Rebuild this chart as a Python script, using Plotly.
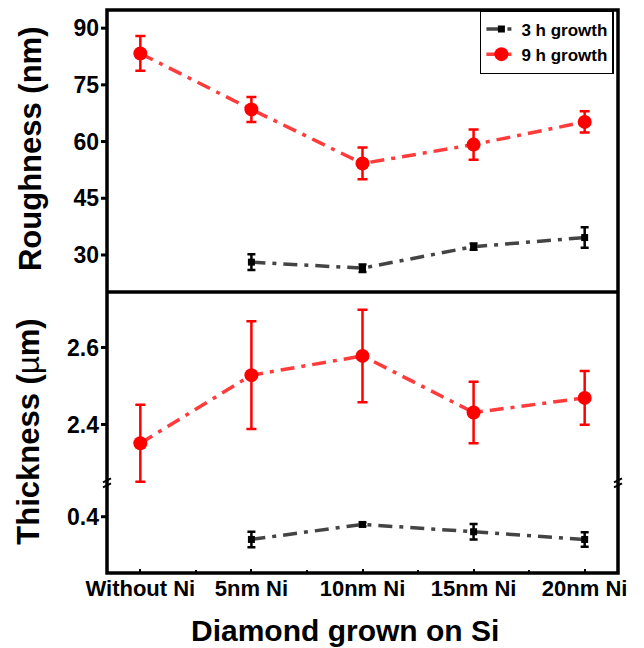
import plotly.graph_objects as go

# Samples and their tick labels
categories = ["Without Ni", "5nm Ni", "10nm Ni", "15nm Ni", "20nm Ni"]
xpos = [0, 1, 2, 3, 4]

# Surface roughness (nm)
rough_3h = [None, 28.1, 26.5, 32.2, 34.6]
rough_3h_err = [0, 2.1, 1.0, 0.8, 2.7]
rough_9h = [83.3, 68.5, 54.2, 59.2, 65.2]
rough_9h_err = [4.6, 3.3, 4.2, 4.0, 2.8]
rough_ticks = [30, 45, 60, 75, 90]

# Film thickness (µm)
thick_3h = [None, 0.341, 0.380, 0.361, 0.341]
thick_3h_err = [0, 0.020, 0.005, 0.020, 0.019]
thick_9h = [2.351, 2.528, 2.578, 2.431, 2.469]
thick_9h_err = [0.10, 0.14, 0.12, 0.08, 0.07]
thick_ticks_upper = [2.4, 2.6]
thick_ticks_lower = [0.4]

FONT = "Liberation Sans, Arial, sans-serif"
RED = "#ff0000"
RED_LINE = "#ff3b3b"
BLACK = "#000000"
GREY_LINE = "#444444"
DASH = "14px,7px,4px,7px"

fig = go.Figure()


def add_series(x, y, err, yaxis, kind, show):
    if kind == "3h":
        fig.add_trace(go.Scatter(
            x=x, y=y, yaxis=yaxis, name="3 h growth", mode="lines+markers",
            line=dict(color=GREY_LINE, width=3.5, dash=DASH),
            marker=dict(symbol="square", size=7, color=BLACK),
            error_y=dict(type="data", array=err, color=BLACK, thickness=2.5, width=4),
            showlegend=show, legendrank=1, connectgaps=False,
        ))
    else:
        fig.add_trace(go.Scatter(
            x=x, y=y, yaxis=yaxis, name="9 h growth", mode="lines+markers",
            line=dict(color=RED_LINE, width=3.5, dash=DASH),
            marker=dict(symbol="circle", size=14, color=RED),
            error_y=dict(type="data", array=err, color=RED, thickness=2.5, width=5),
            showlegend=show, legendrank=2,
        ))


add_series(xpos, rough_3h, rough_3h_err, "y", "3h", True)
add_series(xpos, rough_9h, rough_9h_err, "y", "9h", True)
add_series(xpos, thick_9h, thick_9h_err, "y2", "9h", False)
add_series(xpos, thick_3h, thick_3h_err, "y3", "3h", False)

tickfont = dict(family=FONT, size=23, color="black", weight="bold")
# tick marks are drawn as shapes below so the labels sit close to the axis
yax_common = dict(showline=False, showgrid=False, zeroline=False, ticks="",
                  tickfont=tickfont, ticklabelstandoff=7)

split_top = 0.4991   # divider between the two panels
split_break = 0.1599  # axis break in the thickness panel

fig.update_layout(
    width=644, height=648,
    margin=dict(l=107, r=26, t=10, b=75, autoexpand=False),
    plot_bgcolor="white", paper_bgcolor="white",
    xaxis=dict(
        anchor="y3", range=[-0.3, 4.3], tickvals=xpos, ticktext=categories,
        showline=False, showgrid=False, zeroline=False,
        ticks="inside", ticklen=4, tickwidth=2, tickcolor="black",
        tickfont=dict(family=FONT, size=22, color="black", weight="bold"),
        minor=dict(ticks="inside", dtick=0.5, tick0=0, ticklen=3, tickwidth=1.5,
                   tickcolor="black", showgrid=False),
    ),
    yaxis=dict(domain=[split_top, 1], range=[20.2, 94.8],
               tickvals=rough_ticks, anchor="x", **yax_common),
    yaxis2=dict(domain=[split_break, split_top], range=[2.248, 2.744],
                tickvals=thick_ticks_upper, tickformat=".1f", anchor="x", **yax_common),
    yaxis3=dict(domain=[0, split_break], range=[0.254, 0.4875],
                tickvals=thick_ticks_lower, tickformat=".1f", anchor="x", **yax_common),
    legend=dict(
        x=0.992, y=1.0, xanchor="right", yanchor="top",
        bgcolor="white", bordercolor="black", borderwidth=1.5,
        font=dict(family=FONT, size=17, color="black", weight="bold"),
        traceorder="normal", itemwidth=30, tracegroupgap=0,
    ),
    showlegend=True,
)

# Frame, panel divider, outside y ticks and axis-break marks
shapes = [
    dict(type="rect", xref="paper", yref="paper", x0=0, x1=1, y0=0, y1=1,
         line=dict(color="black", width=3.5), layer="above"),
    dict(type="line", xref="paper", yref="paper", x0=0, x1=1, y0=split_top, y1=split_top,
         line=dict(color="black", width=3.5), layer="above"),
]
for yref, vals in (("y", rough_ticks), ("y2", thick_ticks_upper), ("y3", thick_ticks_lower)):
    for v in vals:
        shapes.append(dict(
            type="line", xref="paper", yref=yref, xsizemode="pixel", xanchor=0,
            x0=-6, x1=0, y0=v, y1=v, line=dict(color="black", width=3), layer="above",
        ))
for xa in (0, 1):
    for off in (-2.5, 2.5):
        shapes.append(dict(
            type="line", xref="paper", yref="paper",
            xsizemode="pixel", xanchor=xa, x0=-4, x1=4,
            ysizemode="pixel", yanchor=split_break, y0=off - 2, y1=off + 2,
            line=dict(color="black", width=2), layer="above",
        ))
fig.update_layout(shapes=shapes)

title_font = dict(family=FONT, size=31, color="black", weight="bold")
annotations = [
    dict(text="Roughness (nm)", xref="paper", yref="paper", x=(30 - 107) / 511, y=0.753,
         xanchor="center", yanchor="middle", textangle=-90, showarrow=False,
         font=title_font),
    dict(text="Thickness (<span style='font-weight:normal'>µ</span>m)", xref="paper", yref="paper",
         x=(29 - 107) / 511, y=0.251,
         xanchor="center", yanchor="middle", textangle=-90, showarrow=False,
         font=title_font),
    dict(text="Diamond grown on Si", xref="paper", yref="paper", x=(345 - 107) / 511,
         y=(573 - 630) / 563, xanchor="center", yanchor="middle", showarrow=False,
         font=dict(family=FONT, size=30, color="black", weight="bold")),
]
fig.update_layout(annotations=annotations)

fig.write_html("out.html")
